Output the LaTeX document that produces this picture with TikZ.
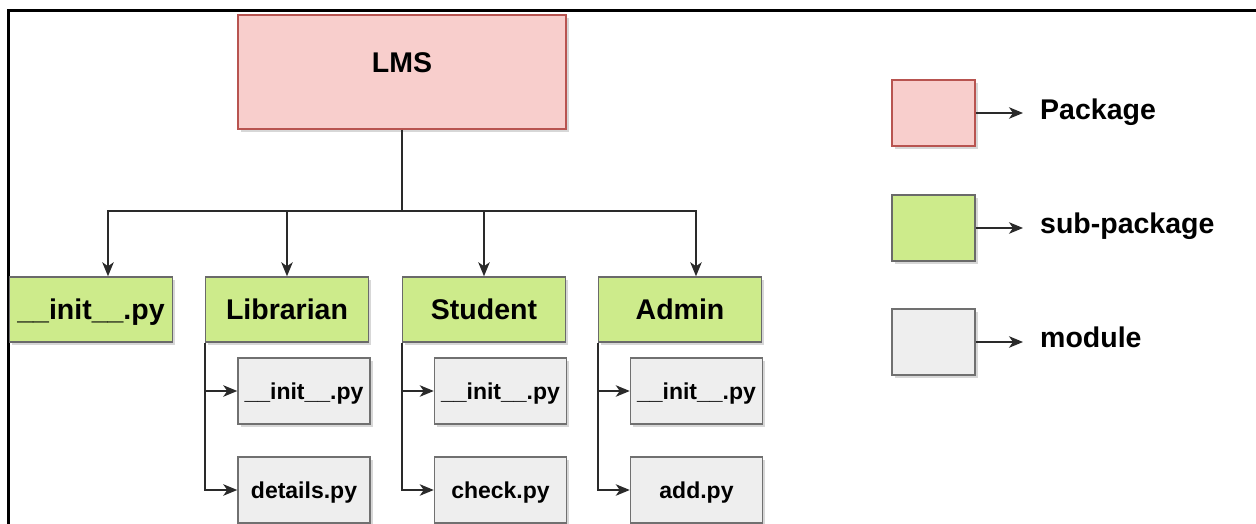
\documentclass[tikz,border=0pt]{standalone}
\usepackage{fontspec}
\setmainfont{Liberation Sans}
\usetikzlibrary{arrows.meta,shadows}
\definecolor{pkgfill}{HTML}{F8CECC}
\definecolor{pkgline}{HTML}{B85450}
\definecolor{subfill}{HTML}{CDEB8B}
\definecolor{subline}{HTML}{6A6A6A}
\definecolor{modfill}{HTML}{EEEEEE}
\definecolor{modline}{HTML}{707070}
\definecolor{wire}{HTML}{2A2A2A}
\begin{document}
\begin{tikzpicture}[x=1pt,y=-1pt,
  box/.style={draw, line width=1.5pt, inner sep=0pt,
    drop shadow={shadow xshift=2.5pt, shadow yshift=-3pt, opacity=0.22, fill=black!70}},
  bigfont/.style={font=\fontsize{28.5}{32}\selectfont\bfseries, text height=20.5pt, text depth=0pt},
  smallfont/.style={font=\fontsize{23}{26}\selectfont\bfseries, text height=16.5pt, text depth=0pt},
  pkgbox/.style={box, fill=pkgfill, draw=pkgline},
  subbox/.style={box, bigfont, fill=subfill, draw=subline, minimum width=163pt, minimum height=65pt},
  modbox/.style={box, smallfont, fill=modfill, draw=modline, minimum width=132pt, minimum height=66pt},
  keybox/.style={minimum width=83pt, minimum height=66pt},
  keytext/.style={bigfont, anchor=west, inner sep=0pt},
  wireline/.style={draw=wire, line width=1.6pt},
  arr/.style={wireline, -{Stealth[length=14pt, width=11.5pt, inset=4pt]}},
]
\useasboundingbox (0,0) rectangle (1256,524);
\clip (0,0) rectangle (1256,524);
\fill[white] (0,0) rectangle (1256,524);

% outer frame (only its top and left sides fall inside the page)
\draw[line width=3pt, black] (8,560) -- (8,11) -- (1300,11);

% package
\node[pkgbox, minimum width=328pt, minimum height=114pt] (lms) at (402,72) {};
\node[bigfont, inner sep=0pt] (lmstext) at (402,62.5) {LMS};

% sub-packages
\node[subbox] (init) at (91,309.5) {\_\_init\_\_.py};
\node[subbox] (lib)  at (287,309.5) {Librarian};
\node[subbox] (stu)  at (484,309.5) {Student};
\node[subbox] (adm)  at (680,309.5) {Admin};

% modules
\node[modbox] (libinit) at (304,391) {\_\_init\_\_.py};
\node[modbox] (libdet)  at (304,490) {details.py};
\node[modbox] (stuinit) at (500.5,391) {\_\_init\_\_.py};
\node[modbox] (stuchk)  at (500.5,490) {check.py};
\node[modbox] (adminit) at (696.5,391) {\_\_init\_\_.py};
\node[modbox] (admadd)  at (696.5,490) {add.py};

% tree connectors
\coordinate (bus) at (402,211);
\draw[wireline] (lms.south) -- (bus);
\draw[arr] (bus) -| ([xshift=17pt]init.north);
\draw[arr] (bus) -| (lib.north);
\draw[arr] (bus) -| (stu.north);
\draw[arr] (bus) -| ([xshift=16pt]adm.north);

\draw[arr] (lib.south west) |- (libinit.west);
\draw[arr] (lib.south west) |- (libdet.west);
\draw[arr] (stu.south west) |- (stuinit.west);
\draw[arr] (stu.south west) |- (stuchk.west);
\draw[arr] (adm.south west) |- (adminit.west);
\draw[arr] (adm.south west) |- (admadd.west);

% legend
\node[pkgbox, keybox] (keypkg) at (933.5,113) {};
\node[subbox, keybox] (keysub) at (933.5,228) {};
\node[modbox, keybox] (keymod) at (933.5,342) {};

\node[keytext] (pkglabel) at (1040,109.5) {Package};
\node[keytext] (sublabel) at (1040,223.5) {sub-package};
\node[keytext] (modlabel) at (1040,337.5) {module};

\draw[arr, shorten >=17pt] (keypkg.east) -- (keypkg.east -| pkglabel.west);
\draw[arr, shorten >=17pt] (keysub.east) -- (keysub.east -| sublabel.west);
\draw[arr, shorten >=17pt] (keymod.east) -- (keymod.east -| modlabel.west);
\end{tikzpicture}
\end{document}
